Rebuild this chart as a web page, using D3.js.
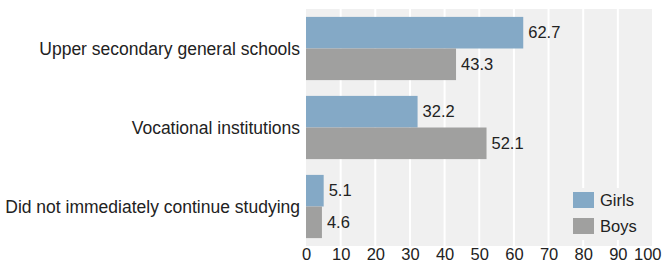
<!DOCTYPE html>
<html>
<head>
<meta charset="utf-8">
<script src="https://cdn.jsdelivr.net/npm/d3@7"></script>
<style>
  body { margin: 0; background: #fff; }
  text { font-family: "Liberation Sans", Arial, sans-serif; fill: #222; }
</style>
</head>
<body>
<svg class="chart" width="662" height="265"></svg>
<script>
var categories = ['Upper secondary general schools', 'Vocational institutions', 'Did not immediately continue studying'];
var series = ['Girls', 'Boys'];
var girls = [62.7, 32.2, 5.1];
var boys = [43.3, 52.1, 4.6];
var ticks = [0, 10, 20, 30, 40, 50, 60, 70, 80, 90, 100];

var colors = { Girls: '#84a9c6', Boys: '#a0a09f' };

var rows = categories.map(function(c, i) {
  return { category: c, Girls: girls[i], Boys: boys[i] };
});

// plot area (note: "top" is reserved on window, so use other names)
var plotLeft = 306, plotRight = 652, plotTop = 9, plotBottom = 246;

var x = d3.scaleLinear()
  .domain([0, 100])
  .range([plotLeft, plotLeft + 346.5]);

var y = d3.scaleBand()
  .domain(categories)
  .range([plotTop, plotBottom])
  .paddingInner(0.2)
  .paddingOuter(0.1);

var ySub = d3.scaleBand()
  .domain(series)
  .range([0, y.bandwidth()]);

var svg = d3.select('svg.chart');

svg.append('rect')
  .attr('x', plotLeft)
  .attr('y', plotTop)
  .attr('width', plotRight - plotLeft)
  .attr('height', plotBottom - plotTop)
  .attr('fill', '#f0f0f0');

// white grid lines
svg.append('g')
  .selectAll('line')
  .data(ticks.slice(1, -1))
  .enter()
    .append('line')
      .attr('x1', function(d) { return x(d); })
      .attr('x2', function(d) { return x(d); })
      .attr('y1', plotTop)
      .attr('y2', plotBottom)
      .attr('stroke', '#fff')
      .attr('stroke-width', 2);

var groups = svg.selectAll('g.group')
  .data(rows)
  .enter()
    .append('g')
      .attr('class', 'group')
      .attr('transform', function(d) { return 'translate(0,' + y(d.category) + ')'; });

groups.selectAll('rect')
  .data(function(d) { return series.map(function(s) { return { key: s, value: d[s] }; }); })
  .enter()
    .append('rect')
      .attr('x', x(0))
      .attr('y', function(d) { return ySub(d.key); })
      .attr('width', function(d) { return x(d.value) - x(0); })
      .attr('height', ySub.bandwidth())
      .attr('fill', function(d) { return colors[d.key]; });

groups.selectAll('text.value')
  .data(function(d) { return series.map(function(s) { return { key: s, value: d[s] }; }); })
  .enter()
    .append('text')
      .attr('class', 'value')
      .attr('x', function(d) { return x(d.value) + 5; })
      .attr('y', function(d) { return ySub(d.key) + ySub.bandwidth() / 2; })
      .attr('dy', '0.35em')
      .attr('font-size', 16.5)
      .text(function(d) { return d.value.toFixed(1); });

// category labels
svg.append('g')
  .selectAll('text')
  .data(categories)
  .enter()
    .append('text')
      .attr('x', plotLeft - 6)
      .attr('y', function(d) { return y(d) + y.bandwidth() / 2; })
      .attr('dy', '0.35em')
      .attr('text-anchor', 'end')
      .attr('font-size', 17.5)
      .text(function(d) { return d; });

// x axis labels
var axis = d3.axisBottom(x).tickValues(ticks).tickSize(0);
var ax = svg.append('g')
  .attr('transform', 'translate(0,' + plotBottom + ')')
  .call(axis);
ax.select('.domain').remove();
ax.selectAll('text')
  .attr('y', 2)
  .attr('font-size', 16.5)
  .attr('font-family', '"Liberation Sans", Arial, sans-serif')
  .attr('fill', '#222');
// last label is pulled in so it stays inside the picture
ax.selectAll('.tick')
  .filter(function(d) { return d === 100; })
  .select('text')
  .attr('text-anchor', 'end')
  .attr('x', 661 - x(100));

// legend
var legend = svg.append('g')
  .attr('class', 'legend');

legend.append('rect')
  .attr('x', 563)
  .attr('y', 188)
  .attr('width', 88)
  .attr('height', 52)
  .attr('fill', '#f0f0f0');

var items = legend.selectAll('g.item')
  .data(series)
  .enter()
    .append('g')
      .attr('class', 'item')
      .attr('transform', function(d, i) { return 'translate(573,' + (192 + i * 26) + ')'; });

items.append('rect')
  .attr('width', 21)
  .attr('height', 16)
  .attr('fill', function(d) { return colors[d]; });

items.append('text')
  .attr('x', 27)
  .attr('y', 8)
  .attr('dy', '0.35em')
  .attr('font-size', 16.5)
  .text(function(d) { return d; });
</script>
</body>
</html>
